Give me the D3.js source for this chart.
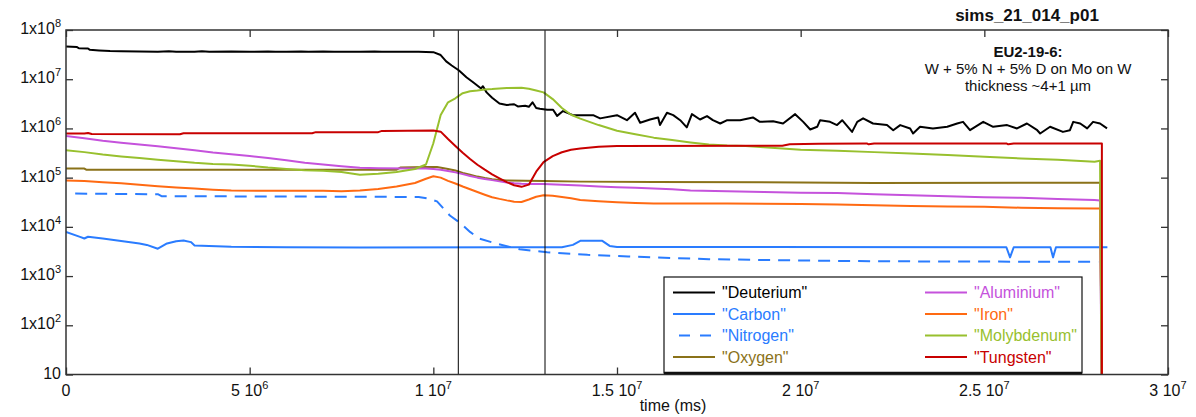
<!DOCTYPE html>
<html><head><meta charset="utf-8">
<script src="https://cdn.jsdelivr.net/npm/d3@7"></script>
<style>
body{margin:0;background:#fff;}
svg{display:block;font-family:"Liberation Sans",Arial,Helvetica,sans-serif;}
</style></head><body>
<svg id="chart" width="1196" height="417"></svg>
<script>
// ---------- texts ----------
const title = "sims_21_014_p01";
const noteLines = ["EU2-19-6:", "W + 5% N + 5% D on Mo on W", "thickness ~4+1 µm"];
const xLabel = "time (ms)";

// ---------- ticks ----------
const xTicks = [0, 5e6, 1e7, 1.5e7, 2e7, 2.5e7, 3e7];
const xTickMantissa = ["0", "5 10", "1 10", "1.5 10", "2 10", "2.5 10", "3 10"];
const xTickExp = ["", "6", "7", "7", "7", "7", "7"];
const yTicks = [10, 1e2, 1e3, 1e4, 1e5, 1e6, 1e7, 1e8];
const yTickMantissa = ["10", "1x10", "1x10", "1x10", "1x10", "1x10", "1x10", "1x10"];
const yTickExp = ["", "2", "3", "4", "5", "6", "7", "8"];

// vertical marker lines (time, ms)
const markers = [10.68e6, 13.04e6];

// ---------- series (time in 10^6 ms, signal) ----------
const timeUnit = 1e6;
const seriesNames = ["Deuterium", "Carbon", "Nitrogen", "Oxygen", "Aluminium", "Iron", "Molybdenum", "Tungsten"];
const seriesColors = ["#000000", "#2a7cff", "#2a7cff", "#8a7219", "#c552dc", "#ff6a12", "#98c02e", "#c80000"];
const seriesDash = [null, null, "12,8", null, null, null, null, null];
const legendTextColors = ["#000000", "#2a7cff", "#2a7cff", "#8a7219", "#c552dc", "#ff6a12", "#98c02e", "#c80000"];

const deuterium = [[0,4.6e7],[0.3,4.5e7],[0.35,4.25e7],[0.6,4.2e7],[0.65,3.95e7],[0.9,3.85e7],[1.2,3.75e7],[1.5,3.7e7],[2.0,3.65e7],[2.5,3.6e7],[2.8,3.7e7],[3.0,3.6e7],[3.5,3.6e7],[3.7,3.68e7],[3.9,3.6e7],[4.5,3.65e7],[5,3.6e7],[5.5,3.66e7],[5.7,3.6e7],[6,3.6e7],[6.4,3.67e7],[6.6,3.6e7],[7,3.65e7],[7.3,3.6e7],[8,3.6e7],[8.4,3.66e7],[8.6,3.6e7],[9,3.6e7],[9.6,3.6e7],[10.0,3.55e7],[10.2,3.1e7],[10.35,2.3e7],[10.5,1.9e7],[10.7,1.5e7],[10.9,1.1e7],[11.1,8.5e6],[11.3,6.5e6],[11.35,7.2e6],[11.45,5.4e6],[11.6,4.2e6],[11.8,3.2e6],[12.0,3.0e6],[12.2,3.1e6],[12.3,2.8e6],[12.5,2.9e6],[12.6,2.75e6],[12.7,3.4e6],[12.8,2.6e6],[12.9,2.5e6],[13.1,2.4e6],[13.26,2.4e6],[13.37,1.8e6],[13.53,2.25e6],[13.8,1.86e6],[14.35,1.86e6],[14.54,1.6e6],[15.0,1.86e6],[15.27,1.47e6],[15.49,2.08e6],[15.63,1.3e6],[15.9,1.52e6],[16.12,1.67e6],[16.17,1.17e6],[16.36,2.08e6],[16.53,1.86e6],[16.72,1.47e6],[16.9,1.05e6],[17.04,1.95e6],[17.26,1.52e6],[17.45,1.78e6],[17.61,1.47e6],[17.81,1.26e6],[18.0,1.47e6],[18.35,1.47e6],[18.7,1.67e6],[18.89,1.36e6],[19.25,1.4e6],[19.52,1.26e6],[19.85,1.95e6],[20.07,1.36e6],[20.26,9.5e5],[20.45,1.08e6],[20.53,1.47e6],[20.8,1.36e6],[20.99,1.17e6],[21.13,1.47e6],[21.4,8.5e5],[21.54,1.36e6],[21.7,1.6e6],[21.97,1.26e6],[22.35,1.17e6],[22.52,9.2e5],[22.71,1.17e6],[22.98,1.0e6],[23.06,7.9e5],[23.25,1.08e6],[23.6,1.0e6],[23.99,1.08e6],[24.26,1.26e6],[24.42,1.36e6],[24.61,9.2e5],[24.97,1.36e6],[25.24,1.08e6],[25.62,1.17e6],[25.89,1.0e6],[26.16,1.26e6],[26.44,9.2e5],[26.52,7.9e5],[26.79,1.08e6],[27.14,8.5e5],[27.33,9.2e5],[27.42,1.36e6],[27.61,1.26e6],[27.8,1.0e6],[27.96,1.36e6],[28.15,1.26e6],[28.34,1.0e6]];

const carbon = [[0,7.9e3],[0.4,6.2e3],[0.5,5.8e3],[0.6,6.3e3],[1.0,5.8e3],[1.4,5.3e3],[2.0,4.6e3],[2.2,4.3e3],[2.5,3.6e3],[2.75,4.6e3],[3.0,5.1e3],[3.2,5.3e3],[3.4,4.9e3],[3.5,4.2e3],[4.5,3.95e3],[6,3.85e3],[8,3.8e3],[13.5,3.85e3],[13.8,4.3e3],[14.0,5.2e3],[14.6,5.2e3],[14.8,4.1e3],[15,3.9e3],[25.6,3.85e3],[25.7,2.4e3],[25.8,3.85e3],[26.8,3.85e3],[26.87,2.4e3],[26.95,3.85e3],[28.35,3.85e3]];

const nitrogen = [[0.25,4.75e4],[2.5,4.6e4],[2.6,4.2e4],[5,4.15e4],[9.6,4.05e4],[9.9,3.7e4],[10.1,3.3e4],[10.45,1.7e4],[10.75,1.17e4],[11.0,7.9e3],[11.25,5.8e3],[11.7,4.6e3],[12.35,3.5e3],[13.1,3.05e3],[14.2,2.7e3],[15.3,2.5e3],[17.5,2.2e3],[20.5,2.05e3],[22,2.0e3],[25,1.97e3],[28.1,1.95e3]];

const oxygen = [[0,1.53e5],[0.5,1.53e5],[0.55,1.45e5],[9.0,1.45e5],[9.1,1.6e5],[9.8,1.65e5],[10.1,1.65e5],[10.4,1.5e5],[10.6,1.4e5],[10.8,1.25e5],[11,1.15e5],[11.2,1.05e5],[11.4,9.8e4],[11.6,9.3e4],[11.8,9e4],[12,8.8e4],[12.5,8.6e4],[13,8.5e4],[14,8.3e4],[16,8.2e4],[20,8e4],[22,7.8e4],[28.15,7.9e4],[28.2,1]];

const aluminium = [[0,7e5],[0.5,6.3e5],[1,5.6e5],[1.5,5.1e5],[2,4.7e5],[2.5,4.35e5],[3,3.95e5],[3.5,3.6e5],[4,3.25e5],[4.5,3.0e5],[5,2.75e5],[5.5,2.5e5],[6,2.25e5],[6.5,2.0e5],[7,1.85e5],[7.5,1.7e5],[8,1.58e5],[8.5,1.55e5],[9.5,1.54e5],[9.8,1.53e5],[10,1.5e5],[10.2,1.45e5],[10.4,1.37e5],[10.6,1.28e5],[10.8,1.18e5],[11,1.08e5],[11.2,1.0e5],[11.4,9.4e4],[11.6,8.9e4],[11.8,8.4e4],[12,8e4],[12.2,7.7e4],[12.4,7.5e4],[12.6,7.4e4],[13,7.4e4],[13.5,7.2e4],[14,6.9e4],[14.5,6.6e4],[15,6.4e4],[15.5,6.2e4],[16,6e4],[16.5,5.8e4],[17,5.5e4],[18,5.3e4],[19,5.1e4],[20,4.95e4],[21,4.85e4],[22,4.6e4],[23,4.4e4],[24,4.2e4],[25,4.0e4],[26,3.9e4],[27,3.7e4],[28,3.5e4],[28.15,3.45e4],[28.2,1]];

const iron = [[0,8.8e4],[0.5,8.5e4],[1,8.1e4],[1.5,7.7e4],[2,7.2e4],[2.5,6.7e4],[3,6.3e4],[3.5,6.0e4],[4,5.7e4],[4.5,5.5e4],[5.5,5.4e4],[7,5.4e4],[7.5,5.3e4],[8,5.5e4],[8.5,5.9e4],[9,6.6e4],[9.5,7.8e4],[9.8,9.5e4],[10,1.07e5],[10.2,1.0e5],[10.4,8.6e4],[10.6,7.6e4],[10.8,6.6e4],[11,5.8e4],[11.2,5.1e4],[11.4,4.5e4],[11.6,4.0e4],[11.8,3.7e4],[12,3.45e4],[12.2,3.25e4],[12.4,3.2e4],[12.6,3.6e4],[12.8,4.1e4],[13,4.4e4],[13.25,4.3e4],[13.5,4.05e4],[13.75,3.8e4],[14,3.5e4],[14.5,3.3e4],[15,3.15e4],[15.5,3.05e4],[16,3.0e4],[18,3.0e4],[20,2.9e4],[21,2.85e4],[22,2.75e4],[23,2.65e4],[24,2.6e4],[25,2.55e4],[26,2.45e4],[27,2.4e4],[28,2.35e4],[28.15,2.35e4],[28.22,1]];

const molybdenum = [[0,3.6e5],[0.5,3.3e5],[1,2.95e5],[1.5,2.7e5],[2,2.5e5],[2.5,2.3e5],[3,2.15e5],[3.5,2.0e5],[4,1.9e5],[4.5,1.85e5],[5,1.75e5],[5.5,1.6e5],[6,1.5e5],[6.5,1.42e5],[7,1.38e5],[7.5,1.3e5],[8,1.15e5],[8.5,1.2e5],[9,1.3e5],[9.5,1.5e5],[9.8,1.85e5],[10.0,5e5],[10.2,1.87e6],[10.4,3.4e6],[10.6,4.1e6],[10.8,5.2e6],[11,5.7e6],[11.2,5.9e6],[11.4,6.2e6],[11.6,6.3e6],[11.8,6.5e6],[12,6.6e6],[12.4,6.7e6],[12.6,6.4e6],[12.8,5.9e6],[13,5.4e6],[13.25,3.95e6],[13.5,2.6e6],[13.75,1.9e6],[14,1.58e6],[14.5,1.17e6],[15,9e5],[15.5,7.6e5],[16,6.5e5],[16.5,5.8e5],[17,5.2e5],[17.5,4.7e5],[18,4.5e5],[18.5,4.4e5],[19,4.15e5],[19.5,3.9e5],[20,3.7e5],[21,3.5e5],[22,3.3e5],[23,3.1e5],[24,2.9e5],[25,2.65e5],[26,2.45e5],[27,2.3e5],[28,2.1e5],[28.15,2.2e5],[28.2,1]];

const tungsten = [[0,7.9e5],[0.5,7.9e5],[0.6,8.1e5],[0.7,7.7e5],[3.1,7.6e5],[3.2,8e5],[6.7,8e5],[6.8,8.4e5],[8.5,8.4e5],[8.6,8.9e5],[10.0,9.1e5],[10.2,8.6e5],[10.4,6.1e5],[10.6,4.4e5],[10.8,3.2e5],[11.0,2.4e5],[11.2,1.83e5],[11.4,1.45e5],[11.6,1.17e5],[11.8,9.7e4],[12.0,8.1e4],[12.2,7e4],[12.4,6.5e4],[12.6,7.2e4],[12.8,1.32e5],[13.0,2.06e5],[13.25,2.73e5],[13.5,3.28e5],[13.75,3.7e5],[14.0,3.9e5],[14.5,4.25e5],[15,4.4e5],[19.5,4.45e5],[19.7,4.75e5],[20.5,4.9e5],[21.8,4.95e5],[21.85,4.75e5],[22,4.95e5],[25.6,4.95e5],[25.65,4.75e5],[25.8,4.95e5],[28.2,4.95e5],[28.2,1]];

const seriesData = [deuterium, carbon, nitrogen, oxygen, aluminium, iron, molybdenum, tungsten];

// ---------- layout ----------
const W = 1196, H = 417;
const plot = {left: 66, right: 1168, top: 30, bottom: 374.5};
const svg = d3.select("#chart");

const x = d3.scaleLinear().domain([0, 3e7]).range([plot.left, plot.right]);
const y = d3.scaleLog().domain([10, 1e8]).range([plot.bottom, plot.top]);

svg.append("defs").append("clipPath").attr("id", "clip")
  .append("rect").attr("x", plot.left).attr("y", plot.top)
  .attr("width", plot.right - plot.left).attr("height", plot.bottom - plot.top);

// series lines
const line = d3.line().x(d => x(d[0] * timeUnit)).y(d => y(d[1]));
const gLines = svg.append("g").attr("clip-path", "url(#clip)");
seriesData.forEach((data, i) => {
  gLines.append("path").datum(data)
    .attr("d", line)
    .attr("fill", "none")
    .attr("stroke", seriesColors[i])
    .attr("stroke-width", 2)
    .attr("stroke-linejoin", "round")
    .attr("stroke-dasharray", seriesDash[i]);
});

// marker lines
svg.append("g").selectAll("line").data(markers).join("line")
  .attr("x1", d => x(d)).attr("x2", d => x(d))
  .attr("y1", plot.top).attr("y2", plot.bottom)
  .attr("stroke", "#000").attr("stroke-width", 1);

// axes (ticks pointing inward on all four sides)
const axisColor = "#333";
function styleAxis(g) {
  g.select(".domain").remove();
  g.selectAll(".tick line").attr("stroke", axisColor).attr("stroke-width", 1.3);
}
svg.append("g").attr("transform", `translate(0,${plot.bottom})`)
  .call(d3.axisBottom(x).tickValues(xTicks).tickSize(-7).tickFormat("")).call(styleAxis);
svg.append("g").attr("transform", `translate(0,${plot.top})`)
  .call(d3.axisTop(x).tickValues(xTicks).tickSize(-7).tickFormat("")).call(styleAxis);
svg.append("g").attr("transform", `translate(${plot.left},0)`)
  .call(d3.axisLeft(y).tickValues(yTicks).tickSize(-7).tickFormat("")).call(styleAxis);
svg.append("g").attr("transform", `translate(${plot.right},0)`)
  .call(d3.axisRight(y).tickValues(yTicks).tickSize(-7).tickFormat("")).call(styleAxis);

// frame
svg.append("rect").attr("x", plot.left).attr("y", plot.top)
  .attr("width", plot.right - plot.left).attr("height", plot.bottom - plot.top)
  .attr("fill", "none").attr("stroke", axisColor).attr("stroke-width", 1.5);

// x tick labels
const xl = svg.append("g").attr("font-size", 16).attr("fill", "#111");
xTicks.forEach((v, i) => {
  const t = xl.append("text").attr("x", x(v)).attr("y", plot.bottom + 21).attr("text-anchor", "middle");
  t.append("tspan").text(xTickMantissa[i]);
  if (xTickExp[i]) t.append("tspan").attr("dy", -7).attr("font-size", 11).text(xTickExp[i]);
});
// y tick labels
const yl = svg.append("g").attr("font-size", 16).attr("fill", "#111");
yTicks.forEach((v, i) => {
  const t = yl.append("text").attr("x", plot.left - 5).attr("y", y(v)).attr("dy", "0.25em").attr("text-anchor", "end");
  t.append("tspan").text(yTickMantissa[i]);
  if (yTickExp[i]) t.append("tspan").attr("dy", -7).attr("font-size", 11).text(yTickExp[i]);
});

// x axis label
svg.append("text").attr("x", 673).attr("y", 411).attr("text-anchor", "middle")
  .attr("font-size", 16).attr("fill", "#111").text(xLabel);

// title
svg.append("text").attr("x", 1027).attr("y", 21).attr("text-anchor", "middle")
  .attr("font-size", 17).attr("font-weight", "bold").attr("fill", "#111").text(title);

// annotation
noteLines.forEach((s, i) => {
  svg.append("text").attr("x", 1028).attr("y", 57 + i * 17).attr("text-anchor", "middle")
    .attr("font-size", 15).attr("font-weight", i === 0 ? "bold" : "normal")
    .attr("fill", "#111").text(s);
});

// legend
const leg = {x: 664, y: 277, w: 418, h: 96};
svg.append("rect").attr("x", leg.x).attr("y", leg.y).attr("width", leg.w).attr("height", leg.h)
  .attr("fill", "#fff").attr("stroke", "#111").attr("stroke-width", 1.2);
svg.append("line").attr("x1", leg.x).attr("x2", leg.x + leg.w).attr("y1", leg.y + leg.h).attr("y2", leg.y + leg.h)
  .attr("stroke", "#111").attr("stroke-width", 2.5);
seriesNames.forEach((name, i) => {
  const col = Math.floor(i / 4), row = i % 4;
  const lx = leg.x + 9 + col * 252, ly = leg.y + 15.5 + row * 21.5;
  svg.append("line").attr("x1", lx + (seriesDash[i] ? 6 : 0)).attr("x2", lx + 42).attr("y1", ly).attr("y2", ly)
    .attr("stroke", seriesColors[i]).attr("stroke-width", 2)
    .attr("stroke-dasharray", seriesDash[i] ? "11,10" : null);
  svg.append("text").attr("x", lx + 49).attr("y", ly).attr("dy", "0.36em")
    .attr("font-size", 16).attr("fill", legendTextColors[i]).text(`"${name}"`);
});
</script>
</body></html>
